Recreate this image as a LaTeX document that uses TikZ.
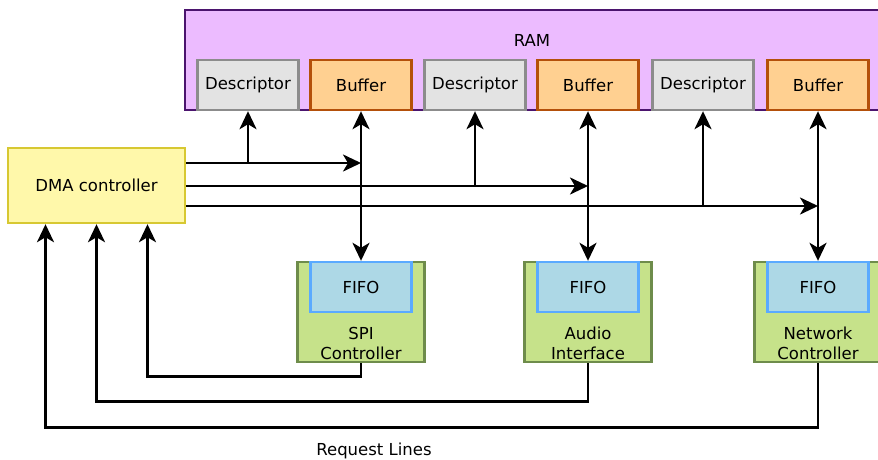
\documentclass[tikz,border=0pt]{standalone}
\usepackage{fontspec}
\setmainfont{DejaVu Sans}
\usetikzlibrary{arrows.meta}
\definecolor{ramfill}{RGB}{236,187,255}
\definecolor{ramline}{RGB}{75,20,110}
\definecolor{descfill}{RGB}{227,227,227}
\definecolor{descline}{RGB}{140,140,140}
\definecolor{buffill}{RGB}{255,208,145}
\definecolor{bufline}{RGB}{180,80,10}
\definecolor{dmafill}{RGB}{255,248,170}
\definecolor{dmaline}{RGB}{215,200,50}
\definecolor{perfill}{RGB}{198,226,138}
\definecolor{perline}{RGB}{110,140,75}
\definecolor{fifofill}{RGB}{173,216,230}
\definecolor{fifoline}{RGB}{90,170,255}
\begin{document}
\begin{tikzpicture}[
  x=1pt, y=-1pt,
  every node/.style={font=\fontsize{16.5}{20}\selectfont, inner sep=0pt},
  memblock/.style={draw, line width=2.4pt, minimum width=101pt, minimum height=50pt},
  descbox/.style={memblock, fill=descfill, draw=descline},
  bufbox/.style={memblock, fill=buffill, draw=bufline},
  fifobox/.style={memblock, fill=fifofill, draw=fifoline},
  periph/.style={draw=perline, fill=perfill, line width=2.4pt, minimum width=127pt, minimum height=100pt},
  wire/.style={line width=2.6pt, -{Stealth[length=18pt,width=17pt,inset=5pt]}},
  bus/.style={line width=2.6pt, {Stealth[length=18pt,width=17pt,inset=5pt]}-{Stealth[length=18pt,width=17pt,inset=5pt]}}
]
\useasboundingbox (0,0) rectangle (878,459);

% memory
\draw[fill=ramfill, draw=ramline, line width=2.4pt] (185,10) rectangle (890,110);
\node (ram) at (532,40) {RAM};
\node[descbox] (desc1) at (248,85) {Descriptor};
\node[bufbox]  (buf1)  at (361,85) {Buffer};
\node[descbox] (desc2) at (475,85) {Descriptor};
\node[bufbox]  (buf2)  at (588,85) {Buffer};
\node[descbox] (desc3) at (703,85) {Descriptor};
\node[bufbox]  (buf3)  at (818,85) {Buffer};

% controller
\node[draw=dmaline, fill=dmafill, line width=2.4pt, minimum width=177pt, minimum height=75pt] (dma) at (96.5,185.5) {DMA controller};

% peripherals
\node[periph]  (spi)   at (361,312) {};
\node[fifobox] (fifo1) at (361,287) {FIFO};
\node[align=center] (spilbl) at (361,343) {SPI\\Controller};
\node[periph]  (audio) at (588,312) {};
\node[fifobox] (fifo2) at (588,287) {FIFO};
\node[align=center] (audiolbl) at (588,343) {Audio\\Interface};
\node[periph]  (net)   at (818,312) {};
\node[fifobox] (fifo3) at (818,287) {FIFO};
\node[align=center] (netlbl) at (818,343) {Network\\Controller};

% data paths
\draw[bus] (buf1.south) -- (fifo1.north);
\draw[bus] (buf2.south) -- (fifo2.north);
\draw[bus] (buf3.south) -- (fifo3.north);

\coordinate (j1) at (361,163);
\coordinate (j2) at (588,186);
\coordinate (j3) at (818,206);
\draw[wire] (dma.east |- j1) -- (j1);
\draw[wire] (desc1 |- j1) -- (desc1.south);
\draw[wire] (dma.east |- j2) -- (j2);
\draw[wire] (desc2 |- j2) -- (desc2.south);
\draw[wire] (dma.east |- j3) -- (j3);
\draw[wire] (desc3 |- j3) -- (desc3.south);

% request lines
\draw[wire] (spi.south) -- ++(0,13) -| ([xshift=51pt]dma.south);
\draw[wire] (audio.south) -- ++(0,38) -| (dma.south);
\draw[wire] (net.south) -- ++(0,64) -| ([xshift=-51pt]dma.south);
\node (reqlbl) at (374,451) {Request Lines};
\end{tikzpicture}
\end{document}
